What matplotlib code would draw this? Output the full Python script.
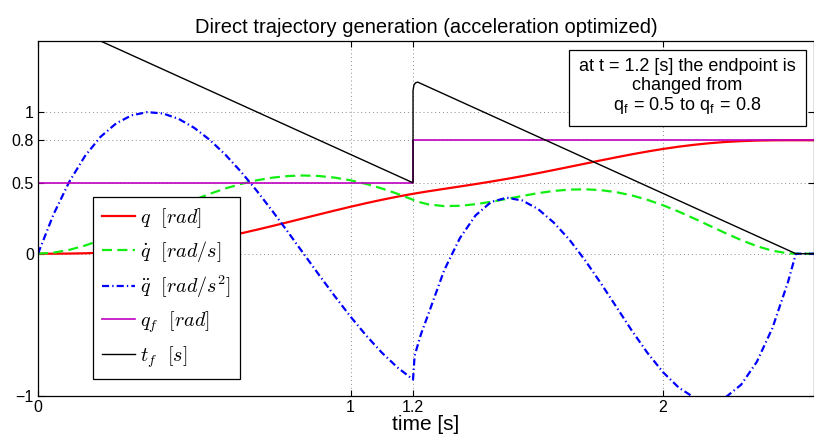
import matplotlib
matplotlib.use('Agg')
import matplotlib.pyplot as plt

plt.rcParams['font.family'] = ['Liberation Sans', 'DejaVu Sans']
plt.rcParams['mathtext.fontset'] = 'cm'

# time samples [s]
t = [0.00, 0.05, 0.10, 0.15, 0.20, 0.25, 0.30, 0.35, 0.40, 0.45, 0.50, 0.55,
     0.60, 0.65, 0.70, 0.75, 0.80, 0.85, 0.90, 0.95, 1.00, 1.05, 1.10, 1.15,
     1.20, 1.205, 1.225, 1.25, 1.30, 1.35, 1.40, 1.45, 1.50, 1.55, 1.60, 1.65,
     1.70, 1.75, 1.80, 1.85, 1.90, 1.95, 2.00, 2.05, 2.10, 2.15, 2.20, 2.25,
     2.30, 2.35, 2.40, 2.425, 2.483]

q = [0.000, 0.0001, 0.0009, 0.0030, 0.0068, 0.0126, 0.0207, 0.0313, 0.0443,
     0.0598, 0.0777, 0.0978, 0.1199, 0.1437, 0.1690, 0.1954, 0.2225, 0.2500,
     0.2775, 0.3046, 0.3310, 0.3563, 0.3801, 0.4022, 0.4223, 0.4242, 0.4316,
     0.4404, 0.4574, 0.4740, 0.4910, 0.5087, 0.5274, 0.5472, 0.5681, 0.5899,
     0.6123, 0.6349, 0.6576, 0.6796, 0.7008, 0.7206, 0.7387, 0.7547, 0.7683,
     0.7794, 0.7880, 0.7939, 0.7977, 0.7995, 0.8000, 0.8000, 0.8000]

qd = [0.000, 0.0072, 0.0270, 0.0571, 0.0951, 0.1388, 0.1864, 0.2359, 0.2857,
      0.3343, 0.3803, 0.4226, 0.4602, 0.4921, 0.5177, 0.5363, 0.5477, 0.5515,
      0.5477, 0.5363, 0.5177, 0.4921, 0.4602, 0.4226, 0.3803, 0.3761, 0.3611,
      0.3473, 0.3355, 0.3380, 0.3490, 0.3660, 0.3860, 0.4073, 0.4270, 0.4425,
      0.4520, 0.4543, 0.4485, 0.4341, 0.4112, 0.3801, 0.3416, 0.2970, 0.2478,
      0.1962, 0.1446, 0.0959, 0.0535, 0.0209, 0.0026, 0.000, 0.000]

qdd = [0.000, 0.2789, 0.5071, 0.6878, 0.8241, 0.9191, 0.9762, 0.9984, 0.9889,
       0.9508, 0.8874, 0.8019, 0.6973, 0.5768, 0.4437, 0.3011, 0.1521, 0.000,
       -0.1521, -0.3011, -0.4437, -0.5768, -0.6973, -0.8019, -0.8874, -0.7200,
       -0.5700, -0.4200, -0.1150, 0.1100, 0.2700, 0.3650, 0.3950, 0.3750, 0.3150,
       0.2200, 0.1000, -0.0450, -0.2050, -0.3733, -0.5422, -0.6992, -0.8359,
       -0.9439, -1.0151, -1.0409, -1.0131, -0.9235, -0.7628, -0.5241, -0.1982,
       0.000, 0.000]

# endpoint q_f and remaining time t_f
qf_t = [0, 1.2, 1.2, 2.483]
qf = [0.5, 0.5, 0.8, 0.8]
tf_t = [0, 1.2, 1.2, 1.203, 1.208, 1.215, 2.425, 2.483]
tf = [1.7, 0.5, 1.15, 1.19, 1.205, 1.21, 0.0, 0.0]

labels = [r'$q\ \ [rad]$', r'$\dot{q}\ \ [rad/s]$', r'$\ddot{q}\ \ [rad/s^2]$',
          r'$q_f\ \ [rad]$', r'$t_f\ \ [s]$']

fig = plt.figure(figsize=(8.14, 4.46), dpi=100)
ax = fig.add_axes([38/814, 50.5/446, 776/814, 354.5/446])

ax.plot(t, q, color='red', lw=1.6, label=labels[0])
ax.plot(t, qd, color='#11ee11', lw=1.6, dashes=(4.5, 2.4), label=labels[1])
ax.plot(t, qdd, color='blue', lw=1.6, dashes=(3.2, 1.4, 0.6, 1.4), label=labels[2])
ax.plot(qf_t, qf, color='#c000c0', lw=1.2, label=labels[3])
ax.plot(tf_t, tf, color='black', lw=1.0, label=labels[4])

ax.set_xlim(0, 2.483)
ax.set_ylim(-1, 1.5)
ax.set_xticks([0, 1, 1.2, 2])
ax.set_xticklabels(['0', '1', '1.2', '2'])
ax.set_yticks([-1, 0, 0.5, 0.8, 1])
ax.set_yticklabels(['\u22121', '0', '0.5', '0.8', '1'])
ax.tick_params(direction='in', top=True, right=True, length=4, width=0.8,
               labelsize=11.5, pad=3)
ax.grid(True, color='0.55', lw=0.7, linestyle=(0, (1, 3)))
for sp in ax.spines.values():
    sp.set_linewidth(0.9)

ax.set_title('Direct trajectory generation (acceleration optimized)',
             fontsize=14.5, pad=6)
ax.set_xlabel('time [s]', fontsize=15, labelpad=0)

leg = ax.legend(loc='upper left', bbox_to_anchor=(55/776, 198.5/354.5),
                borderaxespad=0, fontsize=14.5, handlelength=1.65,
                handletextpad=0.25, labelspacing=0.46, borderpad=0.45,
                fancybox=False, framealpha=1, edgecolor='black')
leg.get_frame().set_linewidth(0.9)

ax.text(2.078, 1.175,
        'at t = 1.2 [s] the endpoint is\nchanged from\n'
        'q$_\\mathregular{f}$ = 0.5 to q$_\\mathregular{f}$ = 0.8',
        ha='center', va='center', fontsize=13, linespacing=1.08,
        bbox=dict(boxstyle='square,pad=0.58', fc='white', ec='black', lw=0.9))

fig.savefig('out.png', dpi=100)
